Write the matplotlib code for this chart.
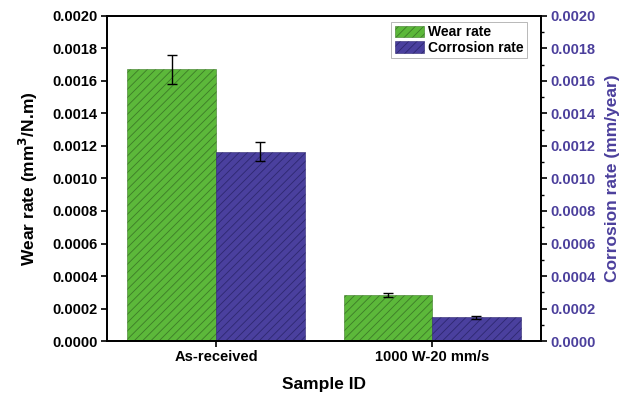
import matplotlib.pyplot as plt
import numpy as np

# data
samples = ['As-received', '1000 W-20 mm/s']
wear_rate = [0.00167, 0.000283]
wear_err = [0.000087, 0.000013]
corrosion_rate = [0.001165, 0.000147]
corrosion_err = [0.00006, 0.000009]

green = '#5cb83a'
blue = '#4a409e'
label_blue = '#4b3f9c'

plt.rcParams['font.family'] = ['Liberation Sans', 'DejaVu Sans']
plt.rcParams['font.weight'] = 'bold'
plt.rcParams['hatch.linewidth'] = 0.6

fig = plt.figure(figsize=(6.25, 3.93), dpi=100)
ax = fig.add_axes([0.171, 0.132, 0.695, 0.828])
ax2 = ax.twinx()

x = np.arange(len(samples))
w = 0.41

ax.bar(x - w / 2, wear_rate, w, color=green, edgecolor='#3d7a28', hatch='////',
       linewidth=0.4, label='Wear rate')
ax.errorbar(x - w / 2, wear_rate, yerr=wear_err, fmt='none', ecolor='black',
            elinewidth=1.0, capsize=3.5, capthick=1.0)
ax.bar(x + w / 2, corrosion_rate, w, color=blue, edgecolor='#2e2870', hatch='////',
       linewidth=0.4, label='Corrosion rate')
ax.errorbar(x + w / 2, corrosion_rate, yerr=corrosion_err, fmt='none', ecolor='black',
            elinewidth=1.0, capsize=3.5, capthick=1.0)

ax.set_xlim(-0.505, 1.505)
ax.set_ylim(0, 0.002)
ax2.set_ylim(0, 0.002)

yt = np.arange(0, 0.00201, 0.0002)
ax.set_yticks(yt)
ax.set_yticklabels([f'{v:.4f}' for v in yt], fontsize=10.5, fontweight='bold')
ax2.set_yticks(yt)
ax2.set_yticklabels([f'{v:.4f}' for v in yt], fontsize=10.5, fontweight='bold',
                    color=label_blue)
ax2.set_yticks(np.arange(0.0001, 0.002, 0.0002), minor=True)

ax.set_xticks(x)
ax.set_xticklabels(samples, fontsize=10.5, fontweight='bold')

ax.tick_params(axis='both', direction='out', width=1.2, length=4, pad=2.5)
ax2.tick_params(axis='y', which='major', direction='out', width=1.2, length=4, pad=2.5)
ax2.tick_params(axis='y', which='minor', direction='out', width=1.0, length=2.5)

for a in (ax, ax2):
    for s in a.spines.values():
        s.set_linewidth(1.3)

ax.set_xlabel('Sample ID', fontsize=12.5, fontweight='bold', labelpad=9)
ax.set_ylabel('Wear rate (mm$^\\mathbf{3}$/N.m)', fontsize=12.5, fontweight='bold',
              labelpad=9)
ax2.set_ylabel('Corrosion rate (mm/year)', fontsize=12.5, fontweight='bold',
               color=label_blue, labelpad=7)

leg = ax.legend(loc='upper right', bbox_to_anchor=(0.968, 0.981), frameon=True,
                fancybox=False, edgecolor='#999999', borderpad=0.25,
                handlelength=2.1, handleheight=0.9, handletextpad=0.3,
                labelspacing=0.1, borderaxespad=0.0,
                prop={'weight': 'bold', 'size': 10})
leg.get_frame().set_linewidth(0.6)

fig.savefig('out.png', dpi=100)
